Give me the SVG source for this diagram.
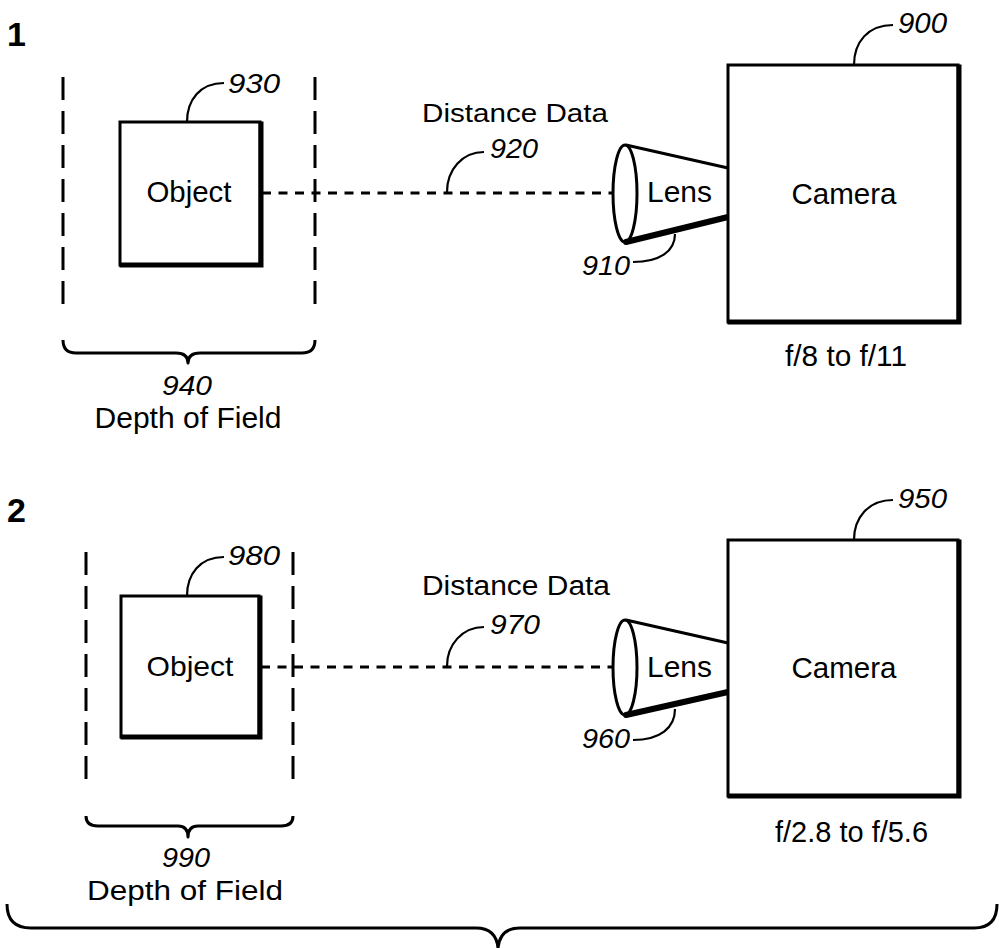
<svg xmlns="http://www.w3.org/2000/svg" width="999" height="948" viewBox="0 0 999 948">
  <style>
    text { font-family: "Liberation Sans", Arial, sans-serif; fill: #000; }
    .lbl { font-size: 30px; }
    .ref { font-size: 27px; font-style: italic; }
    .fig { font-size: 34px; font-weight: bold; }
    .box { fill: #fff; stroke: #000; stroke-width: 3; }
    .shade { fill: none; stroke: #000; stroke-width: 5; stroke-linecap: square; }
    .thin { fill: none; stroke: #000; stroke-width: 3; }
    .heavy { fill: none; stroke: #000; stroke-width: 6; stroke-linecap: round; }
    .lead { fill: none; stroke: #000; stroke-width: 2.2; }
    .dof { fill: none; stroke: #000; stroke-width: 3; stroke-dasharray: 23 11; }
    .ray { fill: none; stroke: #000; stroke-width: 3; stroke-dasharray: 9 7.5; }
    .brace { fill: none; stroke: #000; stroke-width: 3; stroke-linejoin: round; }
  </style>
  <rect width="999" height="948" fill="#fff"/>

  <!-- Scenario 1 -->
  <text class="fig" x="7" y="46">1</text>

  <g id="connectors-1">
    <line class="ray" x1="262" y1="193" x2="613" y2="193"/>
    <path class="lead" d="M447,192 C447,170 462,152 484,152"/>
    <text class="ref" x="490" y="158" textLength="48" lengthAdjust="spacingAndGlyphs">920</text>
    <text class="lbl" x="422" y="122" style="font-size:26px" textLength="186" lengthAdjust="spacingAndGlyphs">Distance Data</text>
  </g>

  <g id="dof-940">
    <line class="dof" x1="63" y1="77" x2="63" y2="313"/>
    <line class="dof" x1="315" y1="77" x2="315" y2="313"/>
    <path class="brace" d="M63,340 Q63,353 76,353 L176,353 Q188,353 188,363 Q188,353 200,353 L302,353 Q315,353 315,340"/>
    <text class="ref" x="187" y="395" text-anchor="middle" style="font-size:28px" textLength="50" lengthAdjust="spacingAndGlyphs">940</text>
    <text class="lbl" x="188" y="428" text-anchor="middle" textLength="187" lengthAdjust="spacingAndGlyphs">Depth of Field</text>
  </g>

  <g id="object-930">
    <rect class="box" x="120" y="122" width="140" height="143"/>
    <path class="shade" d="M261,124 L261,265 L122,265"/>
    <text class="lbl" x="189" y="202" text-anchor="middle" textLength="85" lengthAdjust="spacingAndGlyphs">Object</text>
    <path class="lead" d="M187,122 C187,100 200,83 224,83"/>
    <text class="ref" x="228" y="93" textLength="52" lengthAdjust="spacingAndGlyphs">930</text>
  </g>

  <g id="lens-910">
    <line class="thin" x1="626" y1="145" x2="728" y2="168"/>
    <line class="heavy" x1="626" y1="242" x2="728" y2="217"/>
    <ellipse class="thin" cx="625" cy="193.5" rx="12" ry="48.5" fill="#fff"/>
    <text class="lbl" x="647" y="202" textLength="65" lengthAdjust="spacingAndGlyphs">Lens</text>
    <path class="lead" d="M675,234 C675,251 660,262 633,262"/>
    <text class="ref" x="582" y="275" style="font-size:28px" textLength="48" lengthAdjust="spacingAndGlyphs">910</text>
  </g>

  <g id="camera-900">
    <rect class="box" x="728" y="65" width="230" height="257"/>
    <path class="shade" d="M959,67 L959,322 L730,322"/>
    <text class="lbl" x="844" y="204" text-anchor="middle" textLength="105" lengthAdjust="spacingAndGlyphs">Camera</text>
    <path class="lead" d="M854,65 C854,42 868,25 893,25"/>
    <text class="ref" x="898" y="33" style="font-size:29px" textLength="49" lengthAdjust="spacingAndGlyphs">900</text>
    <text class="lbl" x="785" y="366" textLength="122" lengthAdjust="spacingAndGlyphs">f/8 to f/11</text>
  </g>

  <!-- Scenario 2 -->
  <text class="fig" x="7" y="522">2</text>

  <g id="connectors-2">
    <line class="ray" x1="261" y1="667" x2="613" y2="667"/>
    <path class="lead" d="M447,666 C447,645 462,627 484,627"/>
    <text class="ref" x="490" y="634" textLength="50" lengthAdjust="spacingAndGlyphs">970</text>
    <text class="lbl" x="422" y="595" style="font-size:27px" textLength="188" lengthAdjust="spacingAndGlyphs">Distance Data</text>
  </g>

  <g id="dof-990">
    <line class="dof" x1="86" y1="552" x2="86" y2="787"/>
    <line class="dof" x1="293" y1="552" x2="293" y2="787"/>
    <path class="brace" d="M86,816 Q86,826 98,826 L178,826 Q188,826 188,837 Q188,826 198,826 L281,826 Q293,826 293,816"/>
    <text class="ref" x="186" y="867" text-anchor="middle" textLength="48" lengthAdjust="spacingAndGlyphs">990</text>
    <text class="lbl" x="185" y="900" text-anchor="middle" style="font-size:27px" textLength="196" lengthAdjust="spacingAndGlyphs">Depth of Field</text>
  </g>

  <g id="object-980">
    <rect class="box" x="121" y="596" width="138" height="141"/>
    <path class="shade" d="M260,598 L260,737 L123,737"/>
    <text class="lbl" x="190" y="676" text-anchor="middle" style="font-size:28px" textLength="87" lengthAdjust="spacingAndGlyphs">Object</text>
    <path class="lead" d="M187,596 C187,574 200,557 224,557"/>
    <text class="ref" x="228" y="565" textLength="52" lengthAdjust="spacingAndGlyphs">980</text>
  </g>

  <g id="lens-960">
    <line class="thin" x1="626" y1="620" x2="728" y2="643"/>
    <line class="heavy" x1="626" y1="715" x2="728" y2="692"/>
    <ellipse class="thin" cx="625" cy="667.5" rx="12" ry="47.5" fill="#fff"/>
    <text class="lbl" x="647" y="677" style="font-size:29px" textLength="65" lengthAdjust="spacingAndGlyphs">Lens</text>
    <path class="lead" d="M675,709 C675,728 660,740 633,740"/>
    <text class="ref" x="582" y="748" style="font-size:28px" textLength="48" lengthAdjust="spacingAndGlyphs">960</text>
  </g>

  <g id="camera-950">
    <rect class="box" x="728" y="540" width="230" height="256"/>
    <path class="shade" d="M959,542 L959,796 L730,796"/>
    <text class="lbl" x="844" y="678" text-anchor="middle" style="font-size:29px" textLength="105" lengthAdjust="spacingAndGlyphs">Camera</text>
    <path class="lead" d="M854,540 C854,518 868,500 893,500"/>
    <text class="ref" x="898" y="508" style="font-size:28px" textLength="49" lengthAdjust="spacingAndGlyphs">950</text>
    <text class="lbl" x="775" y="842" style="font-size:29px" textLength="153" lengthAdjust="spacingAndGlyphs">f/2.8 to f/5.6</text>
  </g>

  <!-- Brace grouping both scenarios -->
  <path id="figure-brace" class="brace" d="M7,904 Q7,928 31,928 L476,928 Q496,928 498,948 Q500,928 520,928 L974,928 Q997,928 997,904"/>
</svg>
